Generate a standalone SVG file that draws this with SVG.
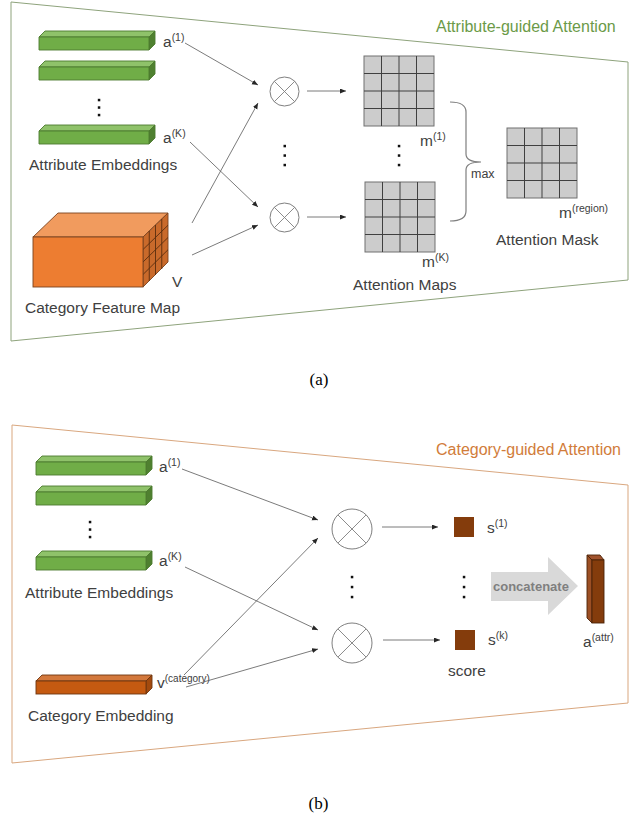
<svg xmlns="http://www.w3.org/2000/svg" xmlns:xlink="http://www.w3.org/1999/xlink" width="641" height="819" viewBox="0 0 641 819">
<style>
.lbl{font-family:"Liberation Sans",Arial,sans-serif;font-size:15.5px;fill:#404040}
.sup{font-size:10.5px}
.cap{font-family:"Liberation Serif","Times New Roman",serif;font-size:17px;fill:#000}
.conn{stroke:#595959;stroke-width:0.8;fill:none}
.arr{marker-end:url(#ah)}
.op{fill:#fff;stroke:#7f7f7f;stroke-width:1}
.opx{stroke:#7f7f7f;stroke-width:0.9}
.dot{fill:#111}
.gf{fill:#70ad47}.gt{fill:#8fc26a}.gs{fill:#4f8030}
.gb{stroke:#4d7a30;stroke-width:0.9;stroke-linejoin:round}
.brn{fill:#843c0c}
</style>
<defs>
<marker id="ah" markerUnits="userSpaceOnUse" markerWidth="7" markerHeight="6" refX="6" refY="2.5" orient="auto">
<path d="M0,0 L6,2.5 L0,5 z" fill="#262626"/>
</marker>
<g id="grid">
<rect x="0" y="0" width="70" height="70" fill="#cccccc" stroke="#707070" stroke-width="1"/>
<path d="M17.5,0V70M35,0V70M52.5,0V70M0,17.5H70M0,35H70M0,52.5H70" stroke="#404040" stroke-width="1" fill="none"/>
</g>
<g id="gbar">
<polygon class="gt gb" points="0,0 6,-6 116,-6 110,0"/>
<polygon class="gs gb" points="110,0 116,-6 116,7 110,13"/>
<rect class="gf gb" x="0" y="0" width="110" height="13"/>
</g>
<g id="opc">
<circle class="op" cx="0" cy="0" r="14.5"/>
<path class="opx" d="M-10.25,-10.25L10.25,10.25M10.25,-10.25L-10.25,10.25"/>
</g>
<g id="opcb">
<circle class="op" cx="0" cy="0" r="20"/>
<path class="opx" d="M-14.1,-14.1L14.1,14.1M14.1,-14.1L-14.1,14.1"/>
</g>
</defs>
<rect width="641" height="819" fill="#fff"/>

<!-- Panel (a) -->
<g id="frame-a">
<polygon points="11,2 628,62 628,280 11,341" fill="none" stroke="#8ea37c" stroke-width="1"/>
<text x="436" y="32" style="font-family:'Liberation Sans',Arial,sans-serif;font-size:16px;fill:#6b9a48">Attribute-guided Attention</text>
</g>

<g id="a-attr-emb">
<use xlink:href="#gbar" x="39" y="37"/>
<use xlink:href="#gbar" x="39" y="67"/>
<use xlink:href="#gbar" x="39" y="131"/>
<rect class="dot" x="97.8" y="98.8" width="2.5" height="2.5"/>
<rect class="dot" x="97.8" y="106.3" width="2.5" height="2.5"/>
<rect class="dot" x="97.8" y="113.8" width="2.5" height="2.5"/>
<text class="lbl" x="163" y="47">a<tspan class="sup" dy="-6">(1)</tspan></text>
<text class="lbl" x="163" y="143">a<tspan class="sup" dy="-6">(K)</tspan></text>
<text class="lbl" x="29" y="170">Attribute Embeddings</text>
</g>

<g id="a-cat-feat">
<polygon points="33,237 58,213 168,213 143,237" fill="#f19b5e" stroke="#7a4420" stroke-width="0.9"/>
<polygon points="143,237 168,213 168,262 143,287" fill="#c96a2b" stroke="#7a4420" stroke-width="0.9"/>
<path d="M149.25,231V281M155.5,225V275M161.75,219V269M143,249.5L168,225.25M143,262L168,237.5M143,274.5L168,249.75" stroke="#5a2e0e" stroke-width="0.9" fill="none"/>
<rect x="33" y="237" width="110" height="50" fill="#ed7d31" stroke="#7a4420" stroke-width="0.9"/>
<text class="lbl" x="172" y="287">V</text>
<text class="lbl" x="25" y="313">Category Feature Map</text>
</g>

<g id="a-op1"><use xlink:href="#opc" x="284.5" y="91.5"/></g>
<g id="a-op2"><use xlink:href="#opc" x="284.5" y="217.5"/></g>
<g id="a-op-dots">
<rect class="dot" x="283.5" y="144.8" width="2.5" height="2.5"/>
<rect class="dot" x="283.5" y="154.3" width="2.5" height="2.5"/>
<rect class="dot" x="283.5" y="163.8" width="2.5" height="2.5"/>
</g>

<g id="a-map1">
<use xlink:href="#grid" x="364" y="56"/>
<text class="lbl" x="420" y="146">m<tspan class="sup" dy="-6">(1)</tspan></text>
</g>
<g id="a-map-dots">
<rect class="dot" x="397.8" y="144.8" width="2.5" height="2.5"/>
<rect class="dot" x="397.8" y="154.3" width="2.5" height="2.5"/>
<rect class="dot" x="397.8" y="163.8" width="2.5" height="2.5"/>
</g>
<g id="a-mapK">
<use xlink:href="#grid" x="365" y="182"/>
<text class="lbl" x="422" y="267">m<tspan class="sup" dy="-6">(K)</tspan></text>
<text class="lbl" x="353" y="290">Attention Maps</text>
</g>

<g id="a-max">
<path d="M450,102 Q466,102 466,112 L466,154 Q466,162 481,162 Q466,162 466,170 L466,211 Q466,221 450,221" fill="none" stroke="#7f7f7f" stroke-width="1.2"/>
<text x="471" y="178" style="font-family:'Liberation Sans',Arial,sans-serif;font-size:12.5px;fill:#404040">max</text>
</g>

<g id="a-mask">
<use xlink:href="#grid" x="507" y="128"/>
<text class="lbl" x="559" y="218">m<tspan class="sup" dy="-6">(region)</tspan></text>
<text class="lbl" x="496" y="245">Attention Mask</text>
</g>

<g id="a-connectors">
<line class="conn arr" x1="185" y1="43" x2="258" y2="85"/>
<line class="conn arr" x1="192" y1="223" x2="258" y2="103"/>
<line class="conn arr" x1="190" y1="142" x2="258" y2="207"/>
<line class="conn arr" x1="192" y1="255" x2="258" y2="225"/>
<line class="conn arr" x1="307" y1="91" x2="346" y2="91"/>
<line class="conn arr" x1="307" y1="217" x2="346" y2="217"/>
</g>

<text class="cap" x="319" y="385" text-anchor="middle">(a)</text>

<!-- Panel (b) -->
<g id="frame-b">
<polygon points="12,425 628,485 628,703 12,763" fill="none" stroke="#d9a77f" stroke-width="1"/>
<text x="436" y="455" style="font-family:'Liberation Sans',Arial,sans-serif;font-size:16px;fill:#d17c3a">Category-guided Attention</text>
</g>

<g id="b-attr-emb">
<use xlink:href="#gbar" x="36" y="462"/>
<use xlink:href="#gbar" x="36" y="492"/>
<use xlink:href="#gbar" x="36" y="557"/>
<rect class="dot" x="88.8" y="520.8" width="2.5" height="2.5"/>
<rect class="dot" x="88.8" y="528.3" width="2.5" height="2.5"/>
<rect class="dot" x="88.8" y="535.8" width="2.5" height="2.5"/>
<text class="lbl" x="159" y="472">a<tspan class="sup" dy="-6">(1)</tspan></text>
<text class="lbl" x="159" y="566">a<tspan class="sup" dy="-6">(K)</tspan></text>
<text class="lbl" x="25" y="598">Attribute Embeddings</text>
</g>

<g id="b-cat-emb">
<polygon points="36,681 42,675 152,675 146,681" fill="#d3783c" stroke="#6e3510" stroke-width="0.9" stroke-linejoin="round"/>
<polygon points="146,681 152,675 152,688 146,694" fill="#a34a0e" stroke="#6e3510" stroke-width="0.9" stroke-linejoin="round"/>
<rect x="36" y="681" width="110" height="13" fill="#c55a11" stroke="#6e3510" stroke-width="0.9"/>
<text class="lbl" x="157" y="688">v<tspan style="font-size:10px" dy="-6">(category)</tspan></text>
<text class="lbl" x="28" y="721">Category Embedding</text>
</g>

<g id="b-op1"><use xlink:href="#opcb" x="352" y="529"/></g>
<g id="b-op2"><use xlink:href="#opcb" x="352" y="643"/></g>
<g id="b-op-dots">
<rect class="dot" x="350.8" y="575.8" width="2.5" height="2.5"/>
<rect class="dot" x="350.8" y="585.8" width="2.5" height="2.5"/>
<rect class="dot" x="350.8" y="595.8" width="2.5" height="2.5"/>
</g>

<g id="b-s1">
<rect class="brn" x="454" y="517" width="20" height="20"/>
<text class="lbl" x="487" y="533">s<tspan class="sup" dy="-6">(1)</tspan></text>
</g>
<g id="b-s-dots">
<rect class="dot" x="462.8" y="575.8" width="2.5" height="2.5"/>
<rect class="dot" x="462.8" y="585.8" width="2.5" height="2.5"/>
<rect class="dot" x="462.8" y="595.8" width="2.5" height="2.5"/>
</g>
<g id="b-sk">
<rect class="brn" x="455" y="630" width="20" height="20"/>
<text class="lbl" x="488" y="645">s<tspan class="sup" dy="-6">(k)</tspan></text>
<text class="lbl" x="448" y="676">score</text>
</g>

<g id="b-concat">
<polygon points="491,572 548,572 548,557 578,586 548,615 548,601 491,601" fill="#d9d9d9"/>
<text x="493" y="591" style="font-family:'Liberation Sans',Arial,sans-serif;font-size:13px;font-weight:bold;fill:#7f7f7f">concatenate</text>
</g>

<g id="b-attr-out">
<polygon points="587,555 600,555 604,560 592,560" fill="#a0522d" stroke="#4a2208" stroke-width="0.9" stroke-linejoin="round"/>
<polygon points="587,555 592,560 592,623 587,618" fill="#9c4f24" stroke="#4a2208" stroke-width="0.9" stroke-linejoin="round"/>
<rect x="592" y="560" width="12" height="63" fill="#843c0c" stroke="#4a2208" stroke-width="0.9"/>
<text class="lbl" x="583" y="647">a<tspan class="sup" dy="-6">(attr)</tspan></text>
</g>

<g id="b-connectors">
<line class="conn arr" x1="182" y1="469" x2="318" y2="520"/>
<line class="conn arr" x1="185" y1="567" x2="318" y2="630"/>
<line class="conn arr" x1="184" y1="675" x2="318" y2="538"/>
<line class="conn arr" x1="186" y1="687" x2="318" y2="649"/>
<line class="conn arr" x1="382" y1="527" x2="438" y2="527"/>
<line class="conn arr" x1="383" y1="640" x2="440" y2="640"/>
</g>

<text class="cap" x="318.5" y="809" text-anchor="middle">(b)</text>
</svg>
